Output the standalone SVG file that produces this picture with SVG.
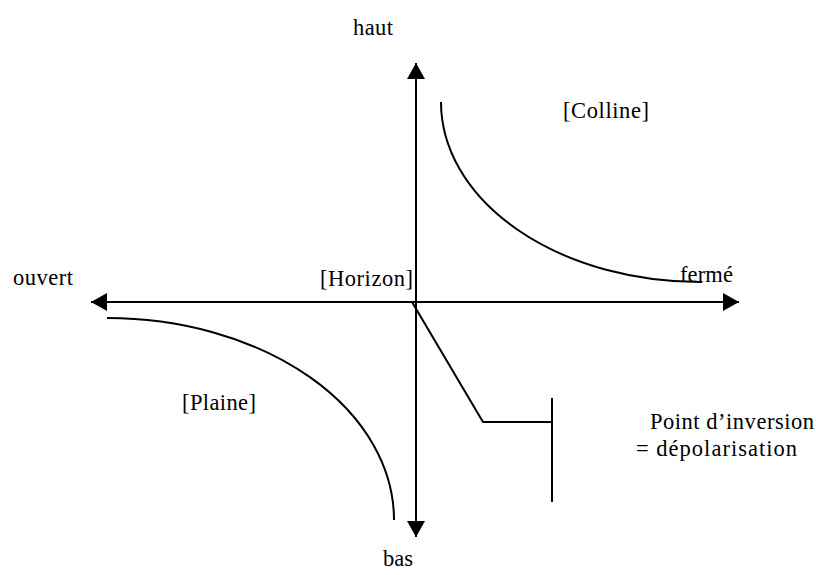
<svg xmlns="http://www.w3.org/2000/svg" width="816" height="575" viewBox="0 0 816 575">
<defs>
<marker id="arr" viewBox="0 0 16 18" refX="16" refY="9" markerWidth="16" markerHeight="18" markerUnits="userSpaceOnUse" orient="auto">
<path d="M0,0 L16,9 L0,18 Z" fill="#000"/>
</marker>
</defs>
<style>
.t{font-family:"Liberation Serif","Times New Roman","DejaVu Serif",serif;font-size:22.5px;fill:#000}
.ln{fill:none;stroke:#000;stroke-width:2}
</style>
<rect width="816" height="575" fill="#fff"/>
<g id="connectors">
<line class="ln" x1="416" y1="302" x2="739" y2="302" marker-end="url(#arr)"/>
<line class="ln" x1="416" y1="302" x2="91" y2="302" marker-end="url(#arr)"/>
<line class="ln" x1="416" y1="302" x2="416" y2="63" marker-end="url(#arr)"/>
<line class="ln" x1="416" y1="302" x2="416" y2="537" marker-end="url(#arr)"/>
</g>
<g id="curves">
<path class="ln" d="M441,102 A259,180 0 0 0 702,282"/>
<path class="ln" d="M107,318 A287,202 0 0 1 394,520"/>
<polyline class="ln" points="412,302 483,422 552,422"/>
<line class="ln" x1="552" y1="398" x2="552" y2="502"/>
</g>
<g id="labels">
<text class="t" x="353" y="35" textLength="40">haut</text>
<text class="t" x="383" y="566" textLength="30">bas</text>
<text class="t" x="13" y="285" textLength="60">ouvert</text>
<text class="t" x="680" y="282" textLength="53">fermé</text>
<text class="t" x="320" y="286" textLength="93">[Horizon]</text>
<text class="t" x="563" y="118" textLength="86">[Colline]</text>
<text class="t" x="182" y="410" textLength="74">[Plaine]</text>
<text class="t" x="650" y="429" textLength="164">Point d’inversion</text>
<text class="t" x="636" y="456" textLength="161">= dépolarisation</text>
</g>
</svg>
